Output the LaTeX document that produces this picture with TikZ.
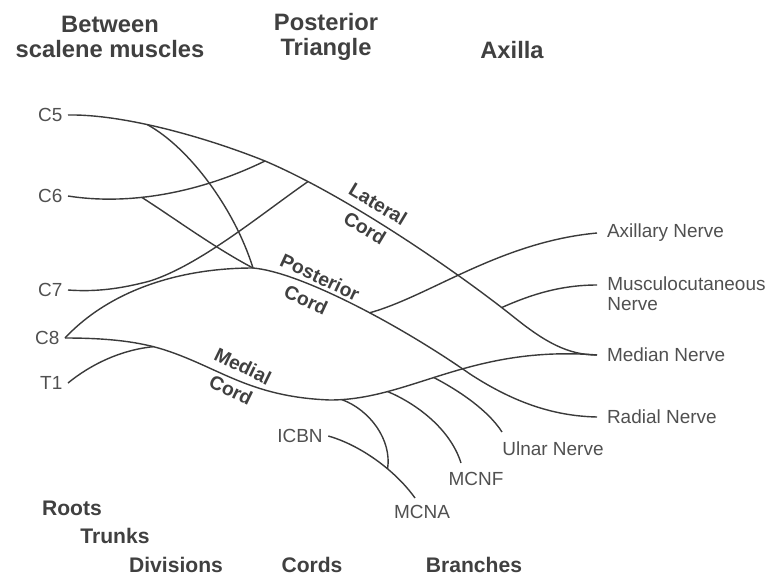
\documentclass[tikz,border=0pt]{standalone}
\usepackage{fontspec}
\setmainfont{Liberation Sans}
\definecolor{nervegray}{HTML}{3A3A3A}
\definecolor{labelgray}{HTML}{505050}
\definecolor{headgray}{HTML}{404040}

\begin{document}
\begin{tikzpicture}[x=0.02cm, y=-0.02cm,
    nerve/.style={draw=nervegray, line width=0.8pt},
    lbl/.style={text=labelgray, font=\fontsize{10.8}{11.4}\selectfont, inner sep=0pt},
    root/.style={lbl, anchor=east, inner xsep=3pt},
    branch/.style={lbl, anchor=west, inner xsep=5.5pt},
    cordlbl/.style={text=headgray, font=\bfseries\fontsize{11}{12}\selectfont, inner sep=0pt},
    head/.style={text=headgray, font=\bfseries\fontsize{13.5}{14.2}\selectfont, align=center, inner sep=0pt},
    level/.style={text=headgray, font=\bfseries\fontsize{12}{14}\selectfont, inner sep=0pt}]
    \useasboundingbox (0,0) rectangle (767,575);

    % headings
    \node[head] (scalene) at (110,37) {Between\\scalene muscles};
    \node[head] (triangle) at (326,37) {Posterior\\Triangle};
    \node[head] (axilla) at (512,50) {Axilla};

    % roots
    \node[root] (C5) at (68,115) {C5};
    \node[root] (C6) at (68,196) {C6};
    \node[root] (C7) at (68,290) {C7};
    \node[root] (C8) at (65,338) {C8};
    \node[root] (T1) at (68,383) {T1};

    % branches
    \node[branch] (axn) at (597,233) {Axillary Nerve};
    \node[lbl, anchor=north west, align=left] (musc) at (607,276) {Musculocutaneous\\Nerve};
    \coordinate (musce) at (597,285);
    \node[branch] (medn) at (597,355) {Median Nerve};
    \node[branch] (radn) at (597,417) {Radial Nerve};
    \node[lbl] (ulnn) at (553,449) {Ulnar Nerve};
    \coordinate (ulne) at (502,432);
    \node[lbl] (mcnf) at (476,479) {MCNF};
    \coordinate (mcnfe) at (461,463);
    \node[lbl] (mcna) at (422,512) {MCNA};
    \coordinate (mcnae) at (415,498);
    \node[lbl, inner xsep=3pt] (icbn) at (300,436) {ICBN};

    % junctions
    \coordinate (j56) at (265,161);
    \coordinate (pc) at (253,268);

    % lateral cord
    \draw[nerve] (C5.east) .. controls (120,114) and (200,135) .. coordinate[pos=0.43] (s5) (j56)
        .. controls (345,195) and (455,270) .. coordinate[pos=0.17] (j7) coordinate[pos=0.93] (mscj) (515,318)
        .. controls (545,342) and (568,355) .. (medn.west);
    \draw[nerve] (s5) .. controls (190,148) and (235,210) .. (pc);
    \draw[nerve] (C6.east) .. controls (125,205) and (195,195) .. coordinate[pos=0.4] (s6) (j56);
    \draw[nerve] (s6) .. controls (177,220) and (215,248) .. (pc);
    \draw[nerve] (C7.east) .. controls (95,292) and (120,289) .. (150,281)
        .. controls (200,265) and (260,215) .. (j7);

    % posterior cord
    \draw[nerve] (C8.east) .. controls (110,290) and (180,268) .. (pc)
        .. controls (300,272) and (400,325) .. coordinate[pos=0.57] (axj) (470,374)
        .. controls (510,400) and (550,416) .. (radn.west);
    \draw[nerve] (axj) .. controls (430,296) and (500,242) .. (axn.west);
    \draw[nerve] (mscj) .. controls (530,295) and (560,285) .. (musce);

    % medial cord
    \draw[nerve] (C8.east) .. controls (110,338) and (140,342) .. coordinate[pos=0.85] (t1j) (165,350)
        .. controls (220,368) and (250,397) .. (330,400)
        .. controls (410,400) and (470,345) .. coordinate[pos=0.05] (mnaj) coordinate[pos=0.25] (mnfj) coordinate[pos=0.45] (ulnj) (medn.west);
    \draw[nerve] (T1.east) .. controls (90,365) and (120,350) .. (t1j);
    \draw[nerve] (ulnj) .. controls (458,390) and (488,410) .. (ulne);
    \draw[nerve] (mnfj) .. controls (415,403) and (450,428) .. (mcnfe);
    \draw[nerve] (icbn.east) .. controls (360,445) and (395,470) .. coordinate[pos=0.63] (icj) (mcnae);
    \draw[nerve] (mnaj) .. controls (370,410) and (392,440) .. (icj);

    % cord labels
    \node[cordlbl, rotate=-31] (latl) at (378,204) {Lateral};
    \node[cordlbl, rotate=-31] (latc) at (365,228) {Cord};
    \node[cordlbl, rotate=-25] (postl) at (320,277) {Posterior};
    \node[cordlbl, rotate=-25] (postc) at (306,300) {Cord};
    \node[cordlbl, rotate=-26] (medl) at (243,366) {Medial};
    \node[cordlbl, rotate=-26] (medc) at (231,390) {Cord};

    % levels
    \node[level] (roots) at (72,508) {Roots};
    \node[level] (trunks) at (115,536) {Trunks};
    \node[level] (divs) at (176,565) {Divisions};
    \node[level] (cords) at (312,565) {Cords};
    \node[level] (brs) at (474,565) {Branches};
\end{tikzpicture}
\end{document}
